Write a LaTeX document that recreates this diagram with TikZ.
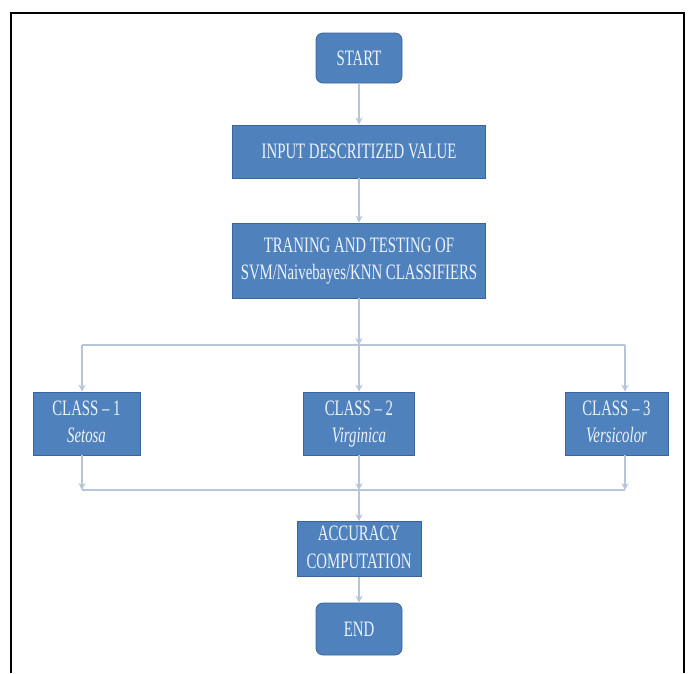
\documentclass[tikz,border=0pt]{standalone}
\usepackage{fontspec}
\setmainfont{Liberation Serif}
\usetikzlibrary{arrows.meta}
\definecolor{boxblue}{HTML}{4F81BD}
\definecolor{boxedge}{HTML}{3B659A}
\definecolor{conn}{HTML}{B7C5DA}
\definecolor{txt}{HTML}{EEF3FB}
\newcommand{\sqz}[1]{\scalebox{0.74}[1.1]{#1}}
\tikzset{
  blk/.style={draw=boxedge, fill=boxblue, line width=0.8pt, text=txt,
    font=\fontsize{20}{25}\selectfont, inner sep=0pt, align=center},
  rblk/.style={blk, rounded corners=7pt},
  conn/.style={draw=conn, line width=1.8pt},
  arr/.style={conn, -{Stealth[length=7pt,width=7pt]}},
}
\begin{document}
\begin{tikzpicture}[x=1pt,y=1pt]
\useasboundingbox (0,0) rectangle (691,-673);
\fill[white] (0,0) rectangle (691,-673);
\draw[line width=2.6pt, black] (11,-673) -- (11,-13) -- (684,-13) -- (684,-673);

\node[rblk, minimum width=86pt, minimum height=50pt] (start) at (359,-58) {\sqz{START}};
\node[blk, minimum width=253pt, minimum height=53pt] (input) at (359,-151.5) {\sqz{INPUT DESCRITIZED VALUE}};
\node[blk, minimum width=253pt, minimum height=75pt] (train) at (359,-260.5) {\sqz{\begin{tabular}{@{}c@{}}TRANING AND TESTING OF\\SVM/Naivebayes/KNN CLASSIFIERS\end{tabular}}};
\node[blk, minimum width=107pt, minimum height=63pt] (c1) at (86.5,-423.5) {\sqz{\begin{tabular}{@{}c@{}}CLASS -- 1\\\textit{Setosa}\end{tabular}}};
\node[blk, minimum width=111pt, minimum height=63pt] (c2) at (359,-423.5) {\sqz{\begin{tabular}{@{}c@{}}CLASS -- 2\\\textit{Virginica}\end{tabular}}};
\node[blk, minimum width=103pt, minimum height=63pt] (c3) at (616.5,-423.5) {\sqz{\begin{tabular}{@{}c@{}}CLASS -- 3\\\textit{Versicolor}\end{tabular}}};
\node[blk, minimum width=124pt, minimum height=52pt] (acc) at (359,-549) {\sqz{\begin{tabular}{@{}c@{}}ACCURACY\\COMPUTATION\end{tabular}}};
\node[rblk, minimum width=86pt, minimum height=52pt] (end) at (359,-629) {\sqz{END}};

\coordinate (tl) at (82,-345);
\coordinate (tc) at (359,-345);
\coordinate (tr) at (625,-345);
\coordinate (bl) at (82,-490);
\coordinate (bc) at (359,-490);
\coordinate (br) at (625,-490);

\draw[arr] (start) -- (input);
\draw[arr] (input) -- (train);
\draw[arr] (train) -- (tc);
\draw[conn] (tl) -- (tr);
\draw[arr] (tl) -- (tl |- c1.north);
\draw[arr] (tc) -- (c2);
\draw[arr] (tr) -- (tr |- c3.north);
\draw[conn] (bl) -- (br);
\draw[arr] (bl |- c1.south) -- (bl);
\draw[arr] (c2) -- (bc);
\draw[arr] (br |- c3.south) -- (br);
\draw[arr] (bc) -- (acc);
\draw[arr] (acc) -- (end);
\end{tikzpicture}
\end{document}
